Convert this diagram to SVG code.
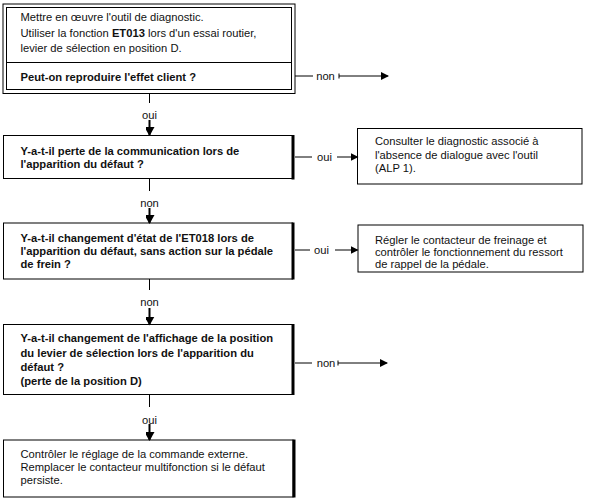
<svg xmlns="http://www.w3.org/2000/svg" width="589" height="499" viewBox="0 0 589 499">
<defs>
<style>
.box{fill:#fff;stroke:#000;stroke-width:1}
.thick{stroke:#000;stroke-width:3}
.t{font-family:"Liberation Sans",Arial,sans-serif;font-size:11.2px;fill:#111}
.b{font-weight:bold}
.lbl{font-family:"Liberation Sans",Arial,sans-serif;font-size:11.2px;fill:#111;text-anchor:middle}
.ln{stroke:#000;stroke-width:1;fill:none}
.sh{stroke:#000;stroke-width:2;fill:none}
</style>
<marker id="ah" markerWidth="8" markerHeight="8" refX="7" refY="4" orient="auto" markerUnits="userSpaceOnUse">
<path d="M0,0 L8,4 L0,8 Z" fill="#000"/>
</marker>
<marker id="av" markerWidth="10" markerHeight="9" refX="8" refY="5" orient="auto" markerUnits="userSpaceOnUse">
<path d="M0,0 L9,5 L0,10 Z" fill="#000"/>
</marker>
</defs>
<rect width="589" height="499" fill="#fff"/>

<g id="node-start">
<rect class="box" x="3" y="4" width="292" height="89.5"/>
<rect class="box" x="6.5" y="7.5" width="285" height="82"/>
<line class="ln" x1="6.5" y1="62.5" x2="291.5" y2="62.5"/>
<text class="t" x="20.5" y="21">Mettre en œuvre l'outil de diagnostic.</text>
<text class="t" x="20.5" y="36.5">Utiliser la fonction <tspan class="b">ET013</tspan> lors d'un essai routier,</text>
<text class="t" x="20.5" y="52">levier de sélection en position D.</text>
<text class="t b" x="20.5" y="81">Peut-on reproduire l'effet client ?</text>
</g>

<g id="node-q1">
<rect class="box" x="3.5" y="135.5" width="289" height="43"/>
<line class="thick" x1="293" y1="135" x2="293" y2="179.5"/>
<text class="t b" x="20.5" y="155">Y-a-t-il perte de la communication lors de</text>
<text class="t b" x="20.5" y="167.5">l'apparition du défaut ?</text>
</g>

<g id="node-r1">
<rect class="box" x="357.5" y="128.5" width="224.5" height="55.5"/>
<text class="t" x="375" y="145">Consulter le diagnostic associé à</text>
<text class="t" x="375" y="158.5">l'absence de dialogue avec l'outil</text>
<text class="t" x="375" y="172">(ALP 1).</text>
</g>

<g id="node-q2">
<rect class="box" x="3.5" y="223" width="289" height="56"/>
<line class="thick" x1="293" y1="222.5" x2="293" y2="279.5"/>
<text class="t b" x="20.5" y="242">Y-a-t-il changement d'état de l'ET018 lors de</text>
<text class="t b" x="20.5" y="255">l'apparition du défaut, sans action sur la pédale</text>
<text class="t b" x="20.5" y="268">de frein ?</text>
</g>

<g id="node-r2">
<rect class="box" x="358" y="225" width="225" height="47"/>
<text class="t" x="375" y="244">Régler le contacteur de freinage et</text>
<text class="t" x="375" y="256">contrôler le fonctionnement du ressort</text>
<text class="t" x="375" y="267.5">de rappel de la pédale.</text>
</g>

<g id="node-q3">
<rect class="box" x="3.5" y="324.5" width="289" height="70"/>
<line class="thick" x1="293" y1="324" x2="293" y2="395"/>
<text class="t b" x="20.5" y="342">Y-a-t-il changement de l'affichage de la position</text>
<text class="t b" x="20.5" y="357">du levier de sélection lors de l'apparition du</text>
<text class="t b" x="20.5" y="371">défaut ?</text>
<text class="t b" x="20.5" y="385">(perte de la position D)</text>
</g>

<g id="node-end">
<rect class="box" x="3.5" y="440" width="289.5" height="57"/>
<line class="thick" x1="294" y1="439.5" x2="294" y2="497.5"/>
<text class="t" x="20.5" y="458">Contrôler le réglage de la commande externe.</text>
<text class="t" x="20.5" y="471">Remplacer le contacteur multifonction si le défaut</text>
<text class="t" x="20.5" y="484">persiste.</text>
</g>

<g id="connectors">
<line class="ln" x1="295" y1="76" x2="313" y2="76"/>
<text class="lbl" x="325.5" y="79.5">non</text>
<line class="ln" x1="339" y1="73.5" x2="339" y2="78.5"/>
<line class="ln" x1="339" y1="76" x2="388" y2="76" marker-end="url(#ah)"/>
<line class="ln" x1="149.5" y1="93.5" x2="149.5" y2="103"/>
<text class="lbl" x="149.5" y="118.5">oui</text>
<line class="sh" x1="149.5" y1="120" x2="149.5" y2="135" marker-end="url(#av)"/>
<line class="ln" x1="295" y1="157" x2="312" y2="157"/>
<text class="lbl" x="324.5" y="160.5">oui</text>
<line class="ln" x1="337" y1="157" x2="357.5" y2="157" marker-end="url(#ah)"/>
<line class="ln" x1="149.5" y1="178.5" x2="149.5" y2="191"/>
<text class="lbl" x="149.5" y="206.5">non</text>
<line class="sh" x1="149.5" y1="208" x2="149.5" y2="223" marker-end="url(#av)"/>
<line class="ln" x1="295" y1="250" x2="310" y2="250"/>
<text class="lbl" x="321.5" y="253.5">oui</text>
<line class="ln" x1="335" y1="250" x2="357.5" y2="250" marker-end="url(#ah)"/>
<line class="ln" x1="149.5" y1="279" x2="149.5" y2="290"/>
<text class="lbl" x="149.5" y="305.5">non</text>
<line class="sh" x1="149.5" y1="308" x2="149.5" y2="324.5" marker-end="url(#av)"/>
<line class="ln" x1="295" y1="363" x2="312" y2="363"/>
<text class="lbl" x="326" y="366.5">non</text>
<line class="ln" x1="338" y1="360.5" x2="338" y2="365.5"/>
<line class="ln" x1="338" y1="363" x2="387" y2="363" marker-end="url(#ah)"/>
<line class="ln" x1="149.5" y1="394.5" x2="149.5" y2="407"/>
<text class="lbl" x="149.5" y="424">oui</text>
<line class="sh" x1="149.5" y1="424" x2="149.5" y2="440" marker-end="url(#av)"/>
</g>
</svg>
